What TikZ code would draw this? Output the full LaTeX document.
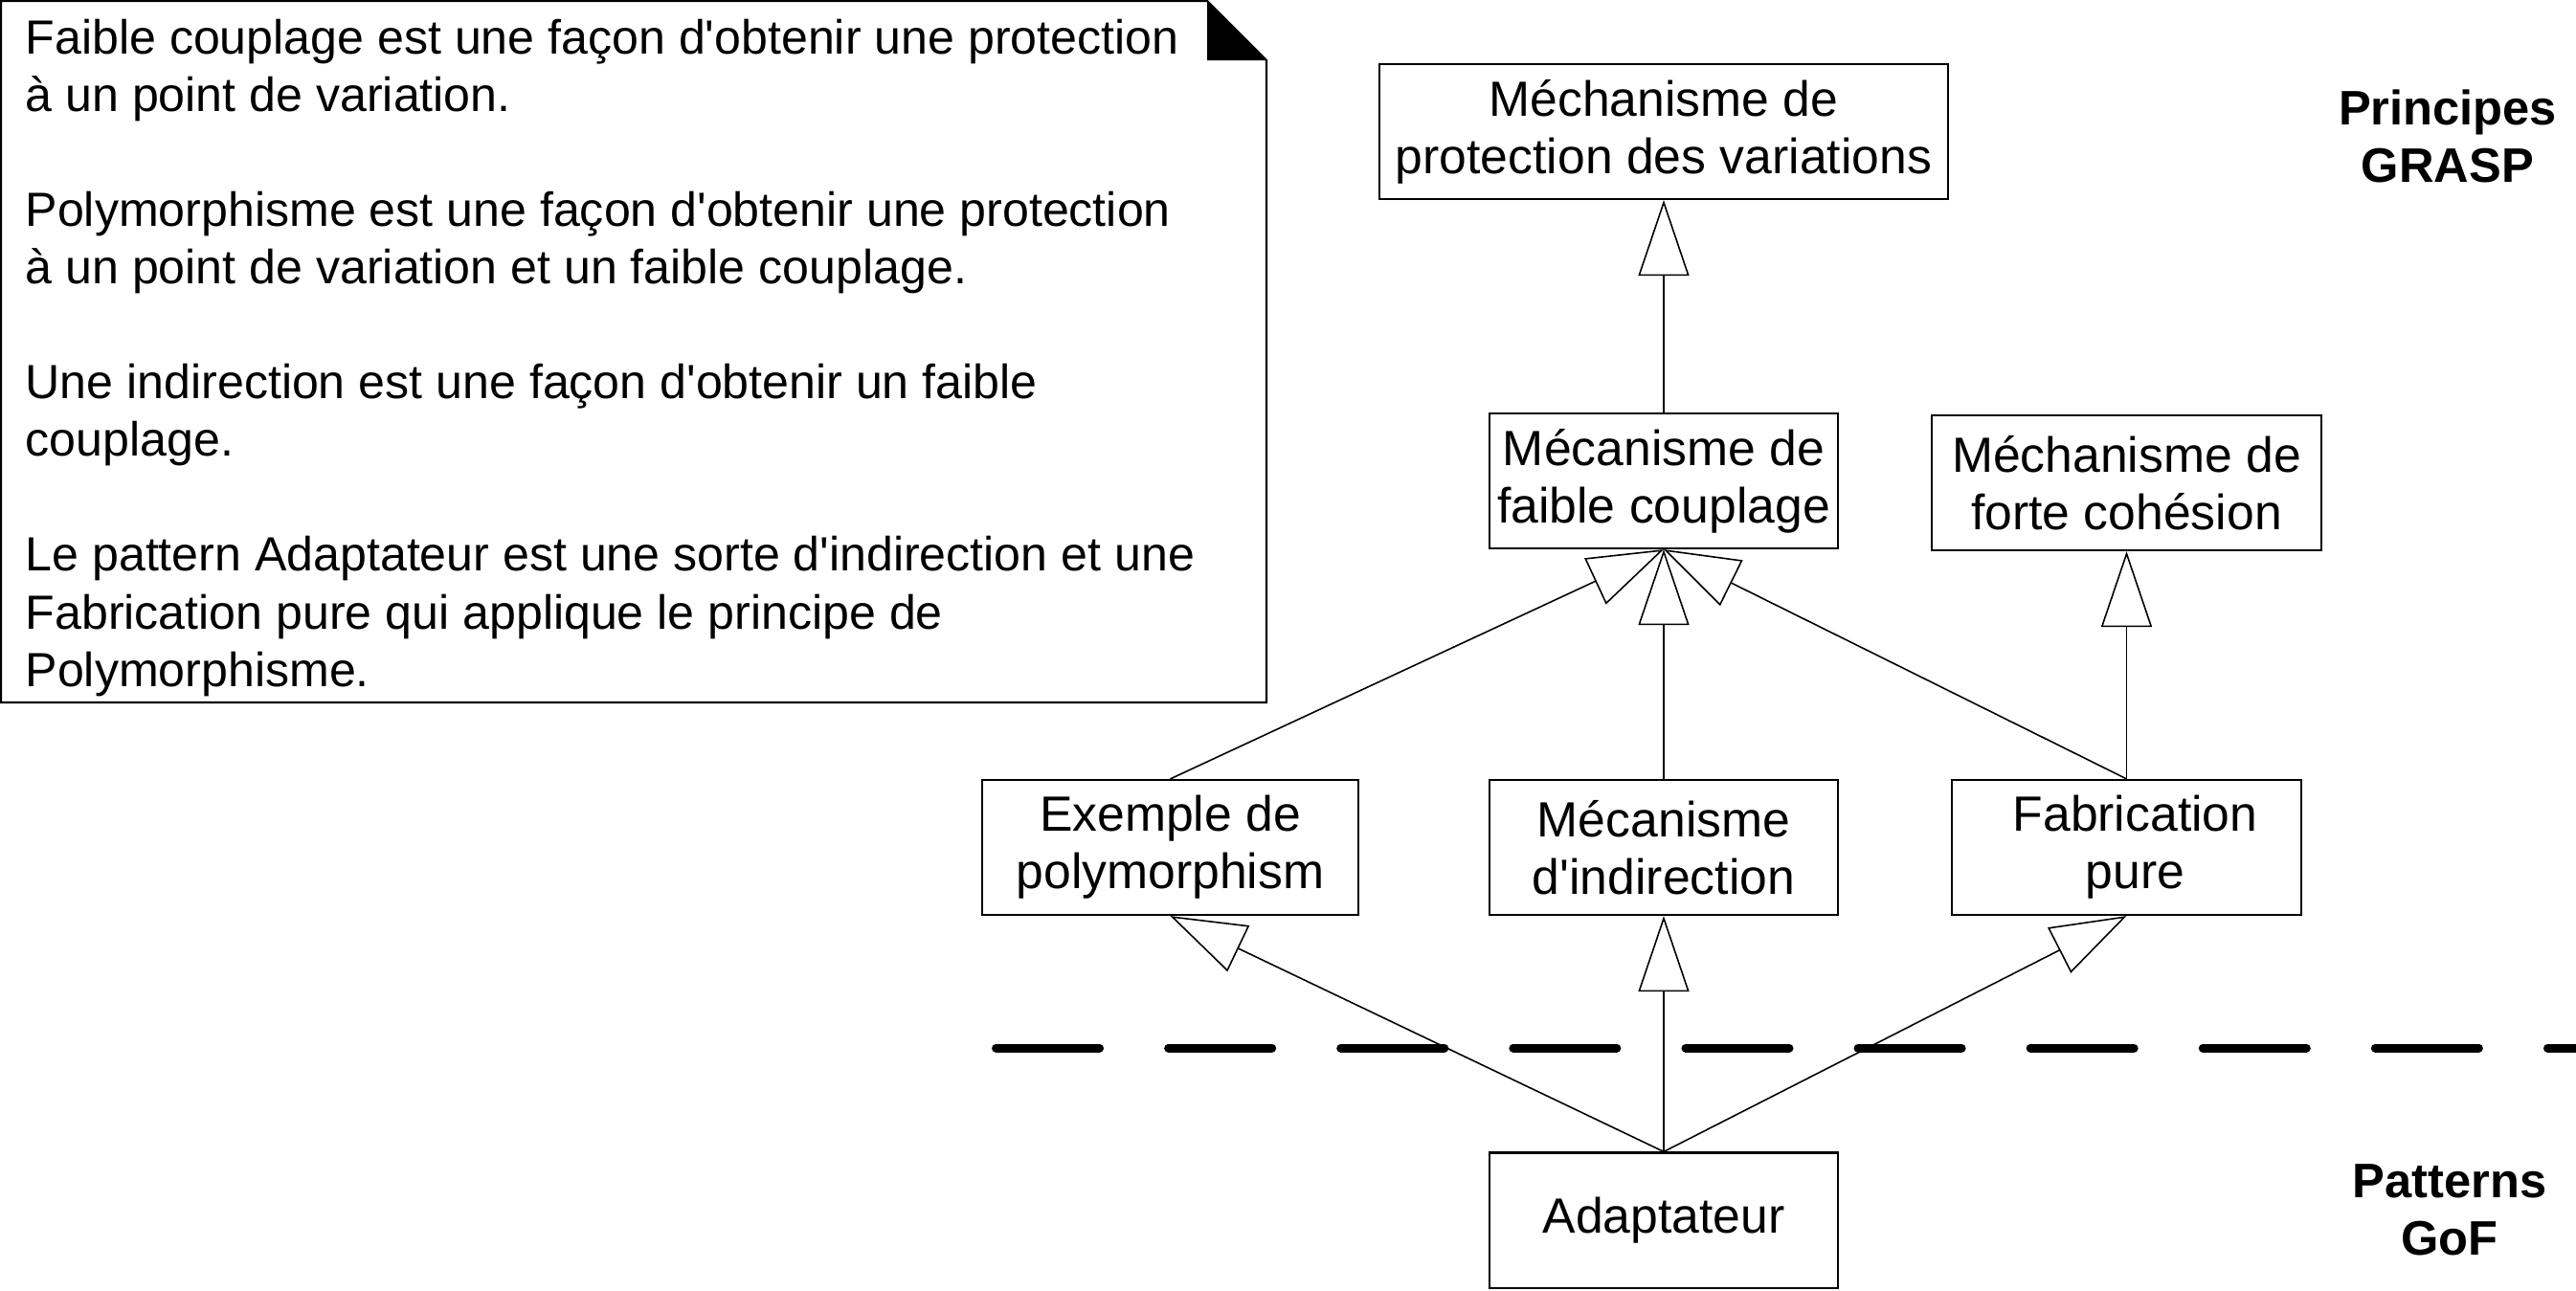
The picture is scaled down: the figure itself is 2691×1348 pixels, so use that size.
\documentclass[tikz,border=0pt]{standalone}
\usepackage{fontspec}
\setmainfont{Liberation Sans}
\usetikzlibrary{arrows.meta}
\newcommand{\sq}{\textquotesingle}
\begin{document}
\begin{tikzpicture}[x=0.01cm,y=-0.01cm,
  every node/.style={font=\fontsize{14.7pt}{17.09pt}\selectfont},
  box/.style={draw, line width=0.6pt, align=center, inner sep=0pt, minimum height=1.41cm},
  gen/.style={line width=0.45pt, -{Triangle[open,length=0.79cm,width=0.53cm,line width=0.45pt]}},
  sep/.style={line width=0.09cm, line cap=round, dash pattern=on 1.08cm off 0.72cm},
  lbl/.style={font=\fontsize{14.4pt}{17.09pt}\selectfont\bfseries, align=center, inner sep=0pt}
]
\useasboundingbox (0,0) rectangle (2691,1348);
% note
\draw[line width=0.6pt] (1,1) -- (1261,1) -- (1323,63) -- (1323,734) -- (1,734) -- cycle;
\fill (1261,1) -- (1323,63) -- (1261,63) -- cycle;
\node[anchor=north west, align=left, inner sep=0pt, font=\fontsize{14.25pt}{17.09pt}\selectfont] (note) at (26,19)
  {Faible couplage est une façon d\sq obtenir une protection\\
   à un point de variation.\\[17.09pt]
   Polymorphisme est une façon d\sq obtenir une protection\\
   à un point de variation et un faible couplage.\\[17.09pt]
   Une indirection est une façon d\sq obtenir un faible\\
   couplage.\\[17.09pt]
   Le pattern Adaptateur est une sorte d\sq indirection et une\\
   Fabrication pure qui applique le principe de\\
   Polymorphisme.};
% boxes
\node[box, minimum width=5.94cm] (prot) at (1738,137.5) {Méchanisme de\\protection des variations};
\node[box, minimum width=3.64cm] (faible) at (1738,502.5) {Mécanisme de\\faible couplage};
\node[box, minimum width=4.07cm] (forte) at (2221.5,504.5) {Méchanisme de\\forte cohésion};
\node[box, minimum width=3.93cm] (exemple) at (1222.5,885.5) {Exemple de\\polymorphism};
\node[box, minimum width=3.64cm] (indir) at (1738,885.5) {Mécanisme\\d\sq indirection};
\node[box, minimum width=3.65cm] (fabr) at (2221.5,885.5) {\hspace*{0.18cm}Fabrication\\\hspace*{0.18cm}pure};
\node[box, minimum width=3.64cm] (adapt) at (1738,1275) {Adaptateur};
% labels
\node[lbl] (grasp) at (2557,142) {Principes\\GRASP};
\node[lbl] (gof) at (2559,1264) {Patterns\\GoF};
% separator
\coordinate (sepA) at (1040.5,1095);
\coordinate (sepB) at (2691,1095);
\draw[sep] (sepA) -- (sepB);
% connectors
\draw[gen] (faible.north) -- (prot.south);
\draw[gen] (exemple.north) -- (faible.south);
\draw[gen] (indir.north) -- (faible.south);
\draw[gen] (fabr.north) -- (faible.south);
\draw[gen] (fabr.north) -- (forte.south);
\draw[gen] (adapt.north) -- (exemple.south);
\draw[gen] (adapt.north) -- (indir.south);
\draw[gen] (adapt.north) -- (fabr.south);
\end{tikzpicture}
\end{document}
